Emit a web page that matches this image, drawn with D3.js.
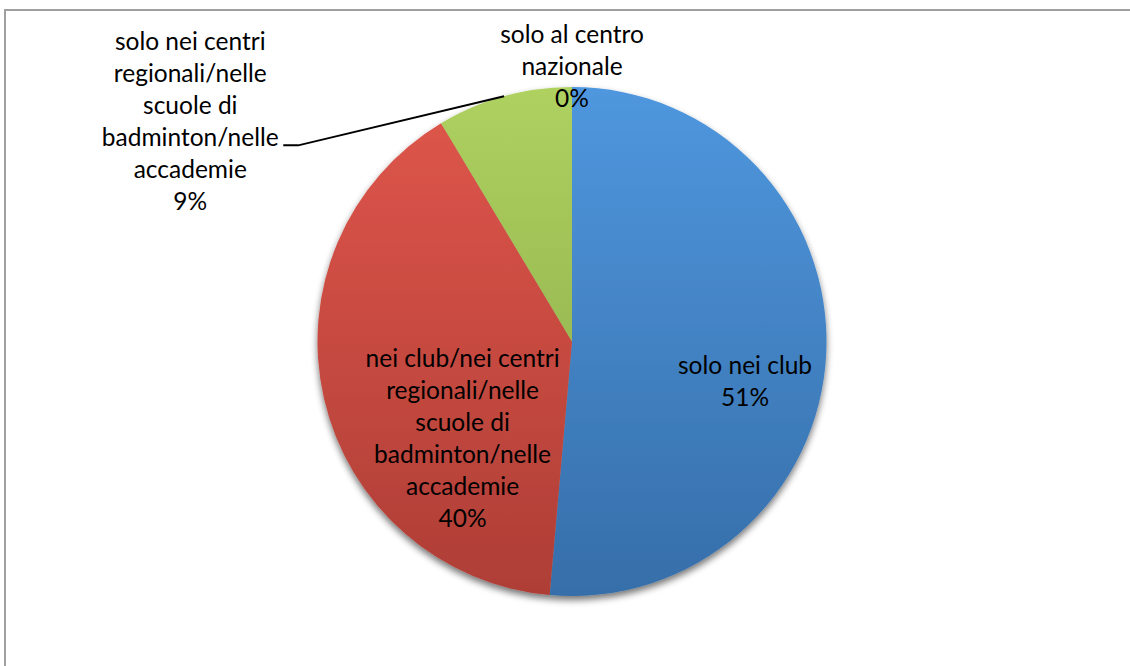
<!DOCTYPE html>
<html>
<head>
<meta charset="utf-8">
<script src="https://cdn.jsdelivr.net/npm/d3@7"></script>
<style>
  html, body { margin: 0; padding: 0; background: #fff; }
  svg { display: block; }
  text { font-family: Lato, "Liberation Sans", sans-serif; fill: #000; }
</style>
</head>
<body>
<svg id="chart" width="1130" height="666"></svg>
<script>
// Where training takes place: share of answers per category
const categories = [
  "solo nei club",
  "nei club/nei centri regionali/nelle scuole di badminton/nelle accademie",
  "solo nei centri regionali/nelle scuole di badminton/nelle accademie",
  "solo al centro nazionale"
];
const values = [51.4, 40.0, 8.6, 0.0];
const labelLines = [
  ["solo nei club"],
  ["nei club/nei centri", "regionali/nelle", "scuole di", "badminton/nelle", "accademie"],
  ["solo nei centri", "regionali/nelle", "scuole di", "badminton/nelle", "accademie"],
  ["solo al centro", "nazionale"]
];
const colorsTop    = ["#4f97de", "#e0564b", "#aed160", "#a6c4e8"];
const colorsBottom = ["#366ea9", "#ae3e36", "#86a546", "#7a9cc6"];
// label block centres, in units of the pie radius, relative to the pie centre
const labelOffsets = [[0.68, 0.155], [-0.43, 0.38], [-1.50, -0.865], [0.0, -1.08]];

const svg = d3.select("#chart");
const W = 1130, H = 666;
const cx = 572, cy = 341.5, R = 254.5;
const fontSize = 24.5, lineH = 32;

// chart frame (only the top and left edges fall inside the view)
svg.append("rect")
  .attr("x", 5).attr("y", 10)
  .attr("width", W + 20).attr("height", H + 20)
  .attr("fill", "#fff")
  .attr("stroke", "#a0a0a0").attr("stroke-width", 2);

const defs = svg.append("defs");
values.forEach((v, i) => {
  const grad = defs.append("linearGradient")
    .attr("id", "grad" + i)
    .attr("gradientUnits", "userSpaceOnUse")
    .attr("x1", 0).attr("y1", -R)
    .attr("x2", 0).attr("y2", R);
  grad.append("stop").attr("offset", "0%").attr("stop-color", colorsTop[i]);
  grad.append("stop").attr("offset", "100%").attr("stop-color", colorsBottom[i]);
});
const shadow = defs.append("filter").attr("id", "shadow")
  .attr("x", "-10%").attr("y", "-10%").attr("width", "120%").attr("height", "125%");
shadow.append("feGaussianBlur").attr("in", "SourceAlpha").attr("stdDeviation", 3.5).attr("result", "b");
shadow.append("feOffset").attr("in", "b").attr("dx", 0).attr("dy", 4).attr("result", "o");
shadow.append("feComponentTransfer").attr("in", "o").attr("result", "s")
  .append("feFuncA").attr("type", "linear").attr("slope", 0.55);
const merge = shadow.append("feMerge");
merge.append("feMergeNode").attr("in", "s");
merge.append("feMergeNode").attr("in", "SourceGraphic");

const pie = d3.pie().sort(null).value(d => d);
const arcs = pie(values);
const arc = d3.arc().innerRadius(0).outerRadius(R);

const g = svg.append("g").attr("transform", `translate(${cx},${cy})`);
g.append("g").attr("filter", "url(#shadow)")
  .selectAll("path")
  .data(arcs)
  .join("path")
  .attr("d", arc)
  .attr("fill", (d, i) => `url(#grad${i})`);

const total = d3.sum(values);
const pct = d3.format(".0%");

// leader line for the small slice whose label sits outside the pie
const small = arcs[2];
const mid = (small.startAngle + small.endAngle) / 2;
const endPt = [Math.sin(mid) * R, -Math.cos(mid) * R];
const lblX = labelOffsets[2][0] * R, lblY = labelOffsets[2][1] * R;
const elbowY = lblY + lineH * 0.75;
g.append("path")
  .attr("d", d3.line()([[lblX + 93, elbowY], [lblX + 108, elbowY], endPt]))
  .attr("fill", "none").attr("stroke", "#000").attr("stroke-width", 2);

arcs.forEach((d, i) => {
  const lines = labelLines[i].concat([pct(values[i] / total)]);
  const x = labelOffsets[i][0] * R, y = labelOffsets[i][1] * R;
  const t = g.append("text")
    .attr("text-anchor", "middle")
    .attr("font-size", fontSize);
  lines.forEach((ln, k) => {
    t.append("tspan")
      .attr("x", x)
      .attr("y", y + (k - (lines.length - 1) / 2) * lineH)
      .attr("dy", "0.35em")
      .text(ln);
  });
});
</script>
</body>
</html>
